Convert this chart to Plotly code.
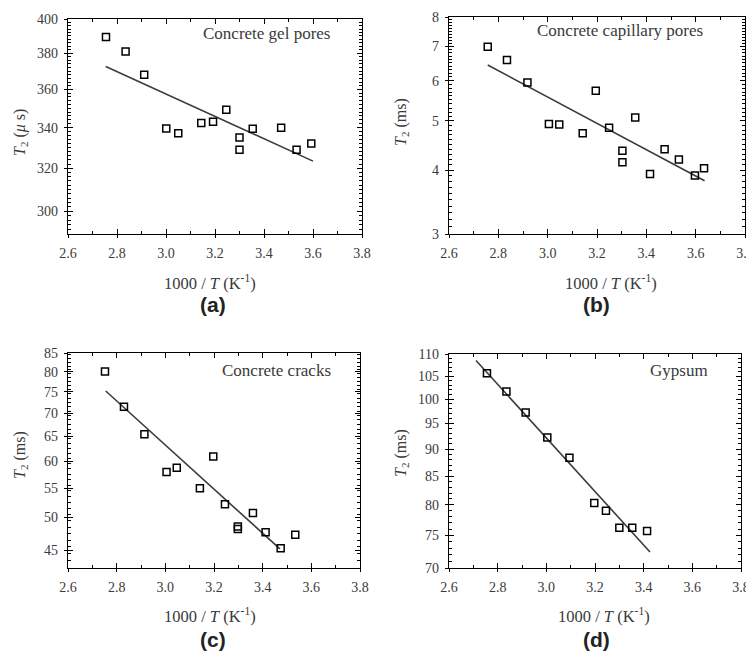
import numpy as np
import plotly.graph_objects as go

# ---------------- data ----------------
a_x = [2.755, 2.835, 2.911, 3.001, 3.050, 3.144, 3.192, 3.246, 3.300, 3.300, 3.354, 3.470, 3.533, 3.593]
a_y = [389.4, 381.0, 368.0, 339.6, 337.2, 342.4, 343.0, 349.2, 335.0, 329.0, 339.5, 340.0, 329.0, 332.0]
a_fit_x = [2.754, 3.600]
a_fit_y = [372.6, 323.4]

b_x = [2.757, 2.835, 2.918, 3.005, 3.047, 3.142, 3.195, 3.249, 3.303, 3.303, 3.355, 3.415, 3.474, 3.532, 3.597, 3.634]
b_y = [6.99, 6.59, 5.95, 4.93, 4.92, 4.73, 5.73, 4.85, 4.37, 4.15, 5.08, 3.935, 4.40, 4.20, 3.906, 4.036]
b_fit_x = [2.757, 3.636]
b_fit_y = [6.44, 3.817]

c_x = [2.752, 2.830, 2.914, 3.005, 3.047, 3.142, 3.197, 3.245, 3.298, 3.298, 3.360, 3.412, 3.474, 3.534]
c_y = [80.1, 71.5, 65.4, 57.9, 58.7, 54.95, 60.9, 52.2, 48.6, 48.2, 50.75, 47.7, 45.3, 47.3]
c_fit_x = [2.755, 3.471]
c_fit_y = [75.2, 45.2]

d_x = [2.756, 2.836, 2.915, 3.004, 3.095, 3.197, 3.245, 3.300, 3.353, 3.414]
d_y = [105.6, 101.6, 97.2, 92.2, 88.35, 80.3, 79.0, 76.2, 76.2, 75.7]
d_fit_x = [2.711, 3.426]
d_fit_y = [108.5, 72.4]

x_ticks = [2.6, 2.8, 3.0, 3.2, 3.4, 3.6, 3.8]
x_ticktext = ["2.6", "2.8", "3.0", "3.2", "3.4", "3.6", "3.8"]
a_yticks = [300, 320, 340, 360, 380, 400]
b_yticks = [3, 4, 5, 6, 7, 8]
c_yticks = [45, 50, 55, 60, 65, 70, 75, 80, 85]
d_yticks = [70, 75, 80, 85, 90, 95, 100, 105, 110]

panel_names = ["Concrete gel pores", "Concrete capillary pores", "Concrete cracks", "Gypsum"]
panel_letters = ["(a)", "(b)", "(c)", "(d)"]
y_titles = ["<i>T</i><sub>2</sub> (<i>μ</i> s)", "<i>T</i><sub>2</sub> (ms)",
            "<i>T</i><sub>2</sub> (ms)", "<i>T</i><sub>2</sub> (ms)"]
x_title = "1000 / <i>T</i> (K<sup>-1</sup>)"

# ---------------- layout geometry ----------------
# the page body has an 8 px margin, so the figure is shifted by 8 px
OFF = 8
W, H = 754 - OFF, 652 - OFF
def px_x(p): return (p - OFF) / W
def px_y(p): return 1 - (p - OFF) / H

panels = [
    dict(x=a_x, y=a_y, fx=a_fit_x, fy=a_fit_y, yt=a_yticks, yr=[290, 400], ystep=2,
         dom=(68, 362, 19, 234)),
    dict(x=b_x, y=b_y, fx=b_fit_x, fy=b_fit_y, yt=b_yticks, yr=[3, 8], ystep=0.1,
         dom=(449, 745, 17, 234)),
    dict(x=c_x, y=c_y, fx=c_fit_x, fy=c_fit_y, yt=c_yticks, yr=[42.5, 85], ystep=1,
         dom=(68, 360, 353, 568)),
    dict(x=d_x, y=d_y, fx=d_fit_x, fy=d_fit_y, yt=d_yticks, yr=[70, 110], ystep=1,
         dom=(449, 741, 354, 568)),
]

serif = "Liberation Serif"
txt_color = "#3a3a3a"
tick_font = dict(family=serif, size=14, color=txt_color)

fig = go.Figure()
layout = dict(width=W, height=H, margin=dict(l=0, r=0, t=0, b=0, autoexpand=False),
              plot_bgcolor="white", paper_bgcolor="white", showlegend=False)
annotations = []

name_pos = [(332, 33), (705, 31), (333, 370), (710, 370)]
xt_pos = [(210, 282), (611, 282), (210, 615), (604, 615)]
yt_pos = [(20, 133), (401, 122), (20, 455), (401, 453)]
lt_pos = [(213, 305), (596, 305), (213, 639), (596, 639)]

for i, p in enumerate(panels):
    n = i + 1
    xa = "x" if n == 1 else f"x{n}"
    ya = "y" if n == 1 else f"y{n}"
    xkey = "xaxis" if n == 1 else f"xaxis{n}"
    ykey = "yaxis" if n == 1 else f"yaxis{n}"
    # overlay axes carrying only the outward half of the major ticks
    on = n + 4
    oxa, oya = f"x{on}", f"y{on}"
    oxkey, oykey = f"xaxis{on}", f"yaxis{on}"
    x0, x1, y0, y1 = p["dom"]
    lo, hi = p["yr"]
    yrange = [np.log10(lo), np.log10(hi)]

    fig.add_trace(go.Scatter(x=p["fx"], y=p["fy"], mode="lines",
                             line=dict(color="#3c3c3c", width=1.6),
                             xaxis=xa, yaxis=ya, hoverinfo="skip"))
    fig.add_trace(go.Scatter(x=p["x"], y=p["y"], mode="markers",
                             marker=dict(symbol="square-open", size=7,
                                         color="black", line=dict(width=1.5, color="black")),
                             xaxis=xa, yaxis=ya))
    fig.add_trace(go.Scatter(x=[None], y=[None], mode="markers", xaxis=oxa, yaxis=oya,
                             hoverinfo="skip"))

    minor_vals = [v for v in np.arange(lo, hi + 1e-9, p["ystep"]).round(3).tolist()
                  if all(abs(v - t) > 1e-6 for t in p["yt"])]
    dom_x = [px_x(x0), px_x(x1)]
    dom_y = [px_y(y1), px_y(y0)]
    layout[xkey] = dict(domain=dom_x, anchor=ya, range=[2.6, 3.8], automargin=False,
                        tickmode="array", tickvals=x_ticks, ticktext=x_ticktext,
                        ticks="inside", ticklen=5, tickwidth=1.2, tickcolor="black",
                        ticklabelstandoff=6,
                        minor=dict(tickvals=[2.7, 2.9, 3.1, 3.3, 3.5, 3.7], ticks="inside",
                                   ticklen=3, tickwidth=1, tickcolor="black"),
                        showline=True, linecolor="black", linewidth=1.3, mirror="allticks",
                        showgrid=False, zeroline=False, tickfont=tick_font)
    layout[ykey] = dict(domain=dom_y, anchor=xa, type="log", range=yrange, automargin=False,
                        tickmode="array", tickvals=p["yt"], ticktext=[str(t) for t in p["yt"]],
                        ticks="inside", ticklen=5, tickwidth=1.2, tickcolor="black",
                        ticklabelstandoff=6,
                        minor=dict(tickvals=minor_vals, ticks="inside", ticklen=2.5,
                                   tickwidth=1, tickcolor="black"),
                        showline=True, linecolor="black", linewidth=1.3, mirror="allticks",
                        showgrid=False, zeroline=False, tickfont=tick_font)
    layout[oxkey] = dict(domain=dom_x, anchor=oya, overlaying=xa, range=[2.6, 3.8],
                         automargin=False,
                         tickmode="array", tickvals=x_ticks, showticklabels=False,
                         ticks="outside", ticklen=3, tickwidth=1.2, tickcolor="black",
                         showline=False, showgrid=False, zeroline=False)
    layout[oykey] = dict(domain=dom_y, anchor=oxa, overlaying=ya, type="log", range=yrange,
                         automargin=False,
                         tickmode="array", tickvals=p["yt"], showticklabels=False,
                         ticks="outside", ticklen=3, tickwidth=1.2, tickcolor="black",
                         showline=False, showgrid=False, zeroline=False)

    nx, ny = name_pos[i]
    annotations.append(dict(text=panel_names[i], xref="paper", yref="paper",
                            x=px_x(nx), y=px_y(ny), xanchor="right", yanchor="middle",
                            showarrow=False, font=dict(family=serif, size=17, color=txt_color)))
    tx, ty = xt_pos[i]
    annotations.append(dict(text=x_title, xref="paper", yref="paper",
                            x=px_x(tx), y=px_y(ty), xanchor="center", yanchor="middle",
                            showarrow=False, font=dict(family=serif, size=16.5, color=txt_color)))
    yx, yy = yt_pos[i]
    annotations.append(dict(text=y_titles[i], xref="paper", yref="paper", textangle=-90,
                            x=px_x(yx), y=px_y(yy), xanchor="center", yanchor="middle",
                            showarrow=False, font=dict(family=serif, size=16, color=txt_color)))
    lx, ly = lt_pos[i]
    annotations.append(dict(text="<b>" + panel_letters[i] + "</b>", xref="paper", yref="paper",
                            x=px_x(lx), y=px_y(ly), xanchor="center", yanchor="middle",
                            showarrow=False, font=dict(family="Liberation Sans", size=21,
                                                       color="#222222")))

layout["annotations"] = annotations
fig.update_layout(**layout)
fig.write_html("out.html")
